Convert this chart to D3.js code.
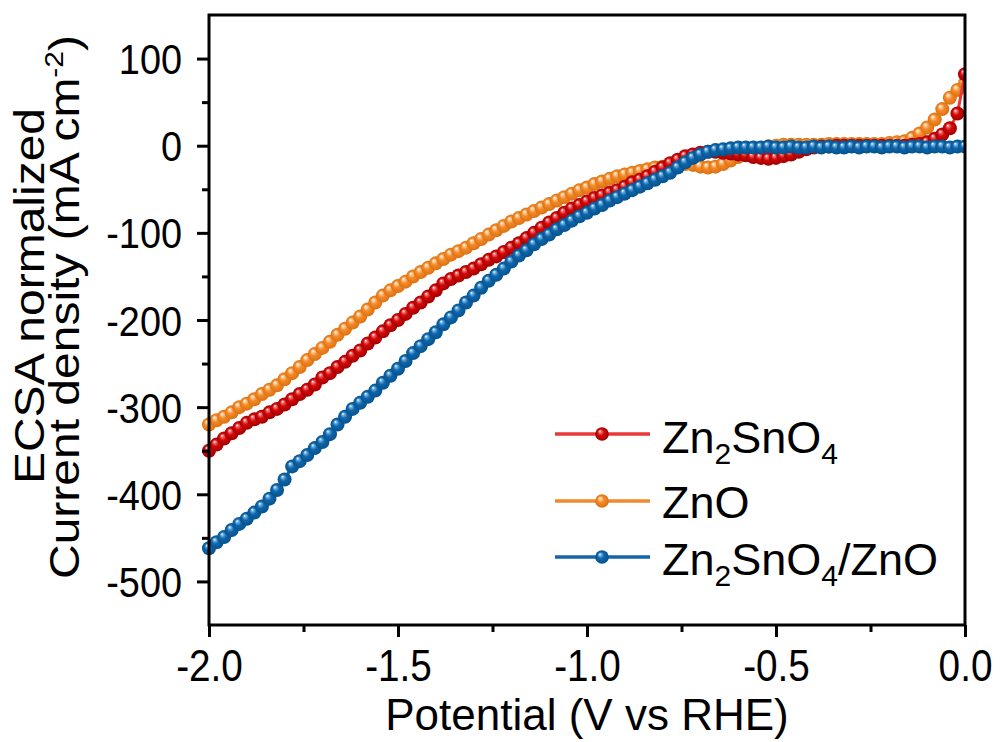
<!DOCTYPE html>
<html><head><meta charset="utf-8">
<script src="https://cdn.jsdelivr.net/npm/d3@7"></script>
<style>
html,body{margin:0;padding:0;background:#fff;}
svg{display:block;}
text{font-family:"Liberation Sans",Arial,Helvetica,sans-serif;fill:#000;}
</style>
</head><body>
<svg id="chart" width="1001" height="742"></svg>
<script>
// ---------------- data ----------------
const potential = [-2.00,-1.98,-1.96,-1.94,-1.92,-1.90,-1.88,-1.86,-1.84,-1.82,-1.80,-1.78,-1.76,-1.74,-1.72,-1.70,-1.68,-1.66,-1.64,-1.62,-1.60,-1.58,-1.56,-1.54,-1.52,-1.50,-1.48,-1.46,-1.44,-1.42,-1.40,-1.38,-1.36,-1.34,-1.32,-1.30,-1.28,-1.26,-1.24,-1.22,-1.20,-1.18,-1.16,-1.14,-1.12,-1.10,-1.08,-1.06,-1.04,-1.02,-1.00,-0.98,-0.96,-0.94,-0.92,-0.90,-0.88,-0.86,-0.84,-0.82,-0.80,-0.78,-0.76,-0.74,-0.72,-0.70,-0.68,-0.66,-0.64,-0.62,-0.60,-0.58,-0.56,-0.54,-0.52,-0.50,-0.48,-0.46,-0.44,-0.42,-0.40,-0.38,-0.36,-0.34,-0.32,-0.30,-0.28,-0.26,-0.24,-0.22,-0.20,-0.18,-0.16,-0.14,-0.12,-0.10,-0.08,-0.06,-0.04,-0.02,0.00];

const zn2sno4 = [-350,-343,-336,-330,-324,-318,-314,-311,-306,-302,-297,-291,-285,-280,-274,-266,-261,-254,-248,-241,-235,-227,-220,-213,-206,-200,-193,-186,-180,-173,-166,-158,-153,-149,-145,-141,-136,-131,-127,-122,-117,-112,-106,-100,-94,-88,-83,-77,-72,-68,-64,-60,-57,-54,-51,-47,-42,-39,-35,-30,-25,-20,-16,-12,-10,-8,-7,-7,-8,-9,-10,-11,-13,-14,-15,-14,-12,-10,-7,-4,-2,-1,-1,0,0,0,0,0,0,0,0,0,0,1,2,4,8,13,20,37,82];

const zno = [-320,-315,-311,-306,-300,-296,-291,-285,-280,-275,-268,-261,-254,-246,-239,-232,-225,-217,-210,-203,-196,-188,-180,-172,-166,-161,-156,-150,-145,-140,-135,-130,-125,-121,-117,-112,-107,-102,-97,-92,-87,-83,-79,-75,-71,-67,-63,-59,-55,-51,-48,-44,-41,-38,-35,-33,-31,-29,-27,-25,-24,-23,-22,-21,-22,-24,-25,-24,-21,-17,-13,-9,-6,-3,-1,0,1,1,1,1,1,1,2,2,2,2,2,2,2,2,3,4,5,9,14,21,30,42,55,64,72];

const zn2sno4Zno = [-462,-455,-449,-441,-434,-428,-421,-414,-405,-395,-383,-368,-362,-355,-347,-340,-331,-320,-311,-302,-295,-288,-281,-272,-264,-256,-247,-238,-230,-222,-214,-205,-197,-189,-180,-172,-163,-155,-148,-141,-133,-126,-120,-113,-107,-102,-96,-91,-86,-81,-77,-72,-68,-63,-59,-55,-51,-47,-43,-39,-35,-31,-25,-19,-14,-10,-7,-5,-4,-3,-2,-2,-2,-2,-1,-2,-2,-1,-2,-2,-1,-2,-1,-2,-2,-1,-2,-1,-1,-2,-1,-1,-2,-1,-1,-2,-1,-1,-2,-1,-1];

const seriesNames = ["Zn2SnO4", "ZnO", "Zn2SnO4/ZnO"];
const xMajorTicks = [-2.0, -1.5, -1.0, -0.5, 0.0];
const xMinorTicks = [-1.75, -1.25, -0.75, -0.25];
const yMajorTicks = [-500, -400, -300, -200, -100, 0, 100];
const yMinorTicks = [-450, -350, -250, -150, -50, 50];
const xTitle = "Potential (V vs RHE)";
const yTitle1 = "ECSA normalized";
const yTitle2 = "Current density (mA cm";

// ---------------- styles ----------------
const styles = [
  {base:"#d40808", dark:"#a00000", light:"#f26a6a", line:"#e83838"},
  {base:"#f28a2a", dark:"#dd7010", light:"#ffc890", line:"#f08a30"},
  {base:"#0f66ab", dark:"#05528c", light:"#6aaee2", line:"#1466a8"}
];
const seriesValues = [zn2sno4, zno, zn2sno4Zno];
const drawOrder = [1, 0, 2];

const svg = d3.select("#chart");
const L = 209, R = 965, T = 15, B = 625;
const x = d3.scaleLinear().domain([-2, 0]).range([L, R]);
const y = d3.scaleLinear().domain([-550, 150]).range([B, T]);

// gradients
const defs = svg.append("defs");
styles.forEach((s, i) => {
  const g = defs.append("radialGradient").attr("id", "g" + i)
    .attr("cx", "0.5").attr("cy", "0.5").attr("r", "0.5")
    .attr("fx", "0.33").attr("fy", "0.28");
  g.append("stop").attr("offset", "0").attr("stop-color", "#ffffff");
  g.append("stop").attr("offset", "0.2").attr("stop-color", s.light);
  g.append("stop").attr("offset", "0.48").attr("stop-color", s.base);
  g.append("stop").attr("offset", "1").attr("stop-color", s.dark);
});
defs.append("clipPath").attr("id", "clip").append("rect")
  .attr("x", L - 8).attr("y", T).attr("width", R - L + 8).attr("height", B - T);

// data series
const plot = svg.append("g").attr("clip-path", "url(#clip)");
const line = d3.line().x((d, i) => x(potential[i])).y(d => y(d));
drawOrder.forEach(si => {
  const vals = seriesValues[si];
  const g = plot.append("g");
  g.append("path").datum(vals).attr("d", line)
    .attr("fill", "none").attr("stroke", styles[si].line).attr("stroke-width", 3);
  g.selectAll("circle").data(vals).join("circle")
    .attr("cx", (d, i) => x(potential[i])).attr("cy", d => y(d))
    .attr("r", 7).attr("fill", `url(#g${si})`);
});

// axes
const fmtY = d => String(d);
const fmtX = d => d.toFixed(1);
const axL = svg.append("g").attr("transform", `translate(${L},0)`)
  .call(d3.axisLeft(y).tickValues(yMajorTicks).tickSize(12).tickSizeOuter(0).tickFormat(fmtY));
const axLm = svg.append("g").attr("transform", `translate(${L},0)`)
  .call(d3.axisLeft(y).tickValues(yMinorTicks).tickSize(7).tickSizeOuter(0).tickFormat(""));
const axB = svg.append("g").attr("transform", `translate(0,${B})`)
  .call(d3.axisBottom(x).tickValues(xMajorTicks).tickSize(12).tickSizeOuter(0).tickFormat(fmtX));
const axBm = svg.append("g").attr("transform", `translate(0,${B})`)
  .call(d3.axisBottom(x).tickValues(xMinorTicks).tickSize(7).tickSizeOuter(0).tickFormat(""));
[axL, axLm, axB, axBm].forEach(a => {
  a.select(".domain").remove();
  a.selectAll(".tick line").attr("stroke", "#000").attr("stroke-width", 3);
});
axL.selectAll(".tick text")
  .attr("x", null).attr("dy", null)
  .attr("transform", "translate(-27,15) scale(0.88,1)")
  .attr("text-anchor", "end").attr("font-size", 43)
  .style("font-family", '"Liberation Sans", Arial, sans-serif').attr("fill", "#000");
axB.selectAll(".tick text")
  .attr("y", null).attr("dy", null)
  .attr("transform", "translate(0,56) scale(0.88,1)")
  .attr("text-anchor", "middle").attr("font-size", 44)
  .style("font-family", '"Liberation Sans", Arial, sans-serif').attr("fill", "#000");

// frame
svg.append("rect").attr("x", L).attr("y", T).attr("width", R - L).attr("height", B - T)
  .attr("fill", "none").attr("stroke", "#000").attr("stroke-width", 3);

// axis titles
svg.append("text").attr("x", (L + R) / 2).attr("y", 730)
  .attr("text-anchor", "middle").attr("font-size", 44).text(xTitle);

svg.append("text").attr("transform", "translate(44,296) rotate(-90) scale(1,0.88)")
  .attr("text-anchor", "middle").attr("font-size", 48).text(yTitle1);
const yt2 = svg.append("text").attr("transform", "translate(79,307) rotate(-90) scale(1,0.88)")
  .attr("text-anchor", "middle").attr("font-size", 48);
yt2.append("tspan").text(yTitle2);
yt2.append("tspan").attr("font-size", 30).attr("dy", -18).text("-2");
yt2.append("tspan").attr("dy", 18).text(")");

// legend
const legLineY = [434, 501, 557];
const legTextY = [453, 518, 575];
seriesNames.forEach((name, i) => {
  const g = svg.append("g");
  g.append("line").attr("x1", 555).attr("x2", 650).attr("y1", legLineY[i]).attr("y2", legLineY[i])
    .attr("stroke", styles[i].line).attr("stroke-width", 3.5);
  g.append("circle").attr("cx", 602).attr("cy", legLineY[i]).attr("r", 6.8).attr("fill", `url(#g${i})`);
  const t = g.append("text").attr("x", 662).attr("y", legTextY[i]).attr("font-size", 45);
  const parts = name.match(/\d+|[^\d]+/g);
  let shifted = false;
  parts.forEach(p => {
    const isSub = /^\d+$/.test(p);
    const ts = t.append("tspan").text(p);
    if (isSub) { ts.attr("font-size", 30).attr("dy", shifted ? 0 : 11); shifted = true; }
    else { if (shifted) ts.attr("dy", -11); shifted = false; }
  });
});
</script>
</body></html>
